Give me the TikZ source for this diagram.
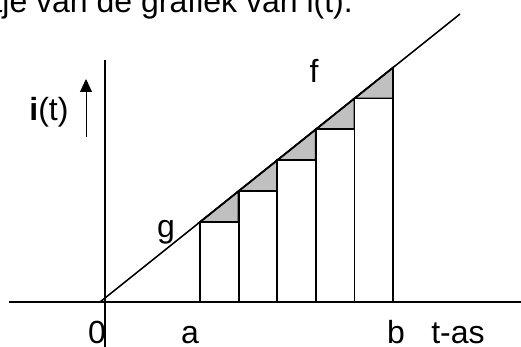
\documentclass[tikz,border=0pt]{standalone}
\usepackage{fontspec}
\setmainfont{Liberation Sans}
\usetikzlibrary{arrows.meta}
\definecolor{grijs}{HTML}{C0C0C0}

\begin{document}
\begin{tikzpicture}[x=1pt,y=1pt,>={Triangle[length=13pt,width=12pt]},
  lbl/.style={font=\fontsize{32}{38}\selectfont,anchor=base,inner sep=0pt},
  axis/.style={line width=1.5pt},
  strip/.style={draw,line width=1.8pt,fill=white},
  gap/.style={draw,line width=1.8pt,fill=grijs}]

  \useasboundingbox (0,0) rectangle (521,347);

  % Assen
  \coordinate (L) at (9,45);
  \coordinate (R) at (521,45);
  \coordinate (T) at (105,287);
  \coordinate (U) at (105,0);
  \draw[axis] (L) -- (R);
  \draw[axis] (T) -- (U);

  % Strookjes onder de grafiek
  \foreach \k in {0,...,4} {
    \pgfmathsetmacro\xl{200+38.6*\k}
    \pgfmathsetmacro\xr{\xl+38.6}
    \pgfmathsetmacro\hl{45+0.8*(\xl-100)}
    \pgfmathsetmacro\hr{45+0.8*(\xr-100)}
    \draw[gap] (\xl,\hl) -- (\xr,\hr) -- (\xr,\hl) -- cycle;
    \draw[strip] (\xl,45) rectangle (\xr,\hl);
  }

  % Grafiek
  \coordinate (O) at (100,45);
  \coordinate (E) at (460,333);
  \draw[axis] (O) -- (E);

  % Pijl bij i(t)
  \coordinate (P) at (86,210);
  \coordinate (Q) at (86,268);
  \draw[->,line width=1pt] (P) -- (Q);

  % Teksten
  \node[lbl,anchor=base east] (kop) at (353,334) {tje van de grafiek van i(t).};
  \node[lbl] (it) at (49,226) {\textbf{i}(t)};
  \node[lbl] (f) at (314,264) {f};
  \node[lbl] (g) at (166,109) {g};
  \node[lbl] (nul) at (97,3) {0};
  \node[lbl] (a) at (190,3) {a};
  \node[lbl] (b) at (396,3) {b};
  \node[lbl] (tas) at (458,3) {t-as};

\end{tikzpicture}
\end{document}
